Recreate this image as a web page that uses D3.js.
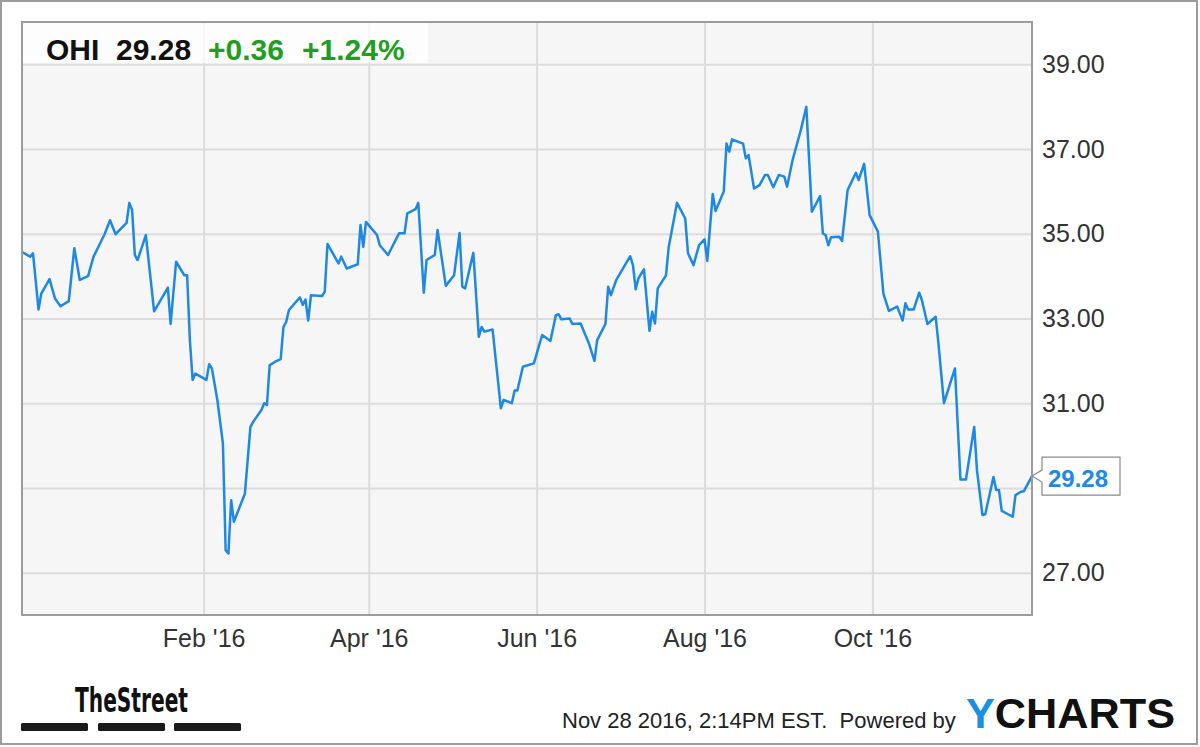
<!DOCTYPE html>
<html>
<head>
<meta charset="utf-8">
<script src="https://cdnjs.cloudflare.com/ajax/libs/d3/7.8.5/d3.min.js"></script>
<style>
  body { margin: 0; background: #fff; }
  svg { display: block; font-family: "Liberation Sans", Arial, sans-serif; }
</style>
</head>
<body>
<svg id="chart" width="1200" height="747"></svg>
<script>
// header / footer text
var ticker = "OHI";
var lastPrice = 29.28;
var change = "+0.36";
var changePct = "+1.24%";
var stamp = "Nov 28 2016, 2:14PM EST.  Powered by";

// price series
var dates = [
  "2015-11-27", "2015-11-30", "2015-12-01", "2015-12-03", "2015-12-04", "2015-12-07", "2015-12-09", "2015-12-11",
  "2015-12-14", "2015-12-16", "2015-12-18", "2015-12-21", "2015-12-23", "2015-12-27", "2015-12-29", "2015-12-31",
  "2016-01-04", "2016-01-05", "2016-01-06", "2016-01-07", "2016-01-08", "2016-01-11", "2016-01-14", "2016-01-19",
  "2016-01-20", "2016-01-22", "2016-01-25", "2016-01-26", "2016-01-27", "2016-01-28", "2016-01-29", "2016-02-02",
  "2016-02-03", "2016-02-04", "2016-02-06", "2016-02-08", "2016-02-09", "2016-02-10", "2016-02-11", "2016-02-12",
  "2016-02-16", "2016-02-18", "2016-02-19", "2016-02-22", "2016-02-23", "2016-02-24", "2016-02-25", "2016-02-27",
  "2016-02-29", "2016-03-01", "2016-03-02", "2016-03-03", "2016-03-07", "2016-03-08", "2016-03-09", "2016-03-10",
  "2016-03-11", "2016-03-15", "2016-03-16", "2016-03-17", "2016-03-21", "2016-03-22", "2016-03-24", "2016-03-28",
  "2016-03-29", "2016-03-30", "2016-03-31", "2016-04-04", "2016-04-05", "2016-04-08", "2016-04-12", "2016-04-14",
  "2016-04-15", "2016-04-18", "2016-04-19", "2016-04-21", "2016-04-22", "2016-04-25", "2016-04-26", "2016-04-29",
  "2016-05-02", "2016-05-04", "2016-05-05", "2016-05-06", "2016-05-09", "2016-05-11", "2016-05-12", "2016-05-13",
  "2016-05-16", "2016-05-19", "2016-05-20", "2016-05-23", "2016-05-24", "2016-05-25", "2016-05-27", "2016-05-31",
  "2016-06-03", "2016-06-06", "2016-06-08", "2016-06-09", "2016-06-10", "2016-06-13", "2016-06-14", "2016-06-17",
  "2016-06-20", "2016-06-22", "2016-06-23", "2016-06-26", "2016-06-27", "2016-06-28", "2016-06-30", "2016-07-05",
  "2016-07-06", "2016-07-07", "2016-07-08", "2016-07-10", "2016-07-12", "2016-07-13", "2016-07-14", "2016-07-15",
  "2016-07-18", "2016-07-19", "2016-07-22", "2016-07-25", "2016-07-26", "2016-07-28", "2016-07-30", "2016-08-01",
  "2016-08-02", "2016-08-04", "2016-08-05", "2016-08-08", "2016-08-09", "2016-08-10", "2016-08-11", "2016-08-15",
  "2016-08-16", "2016-08-17", "2016-08-19", "2016-08-21", "2016-08-23", "2016-08-24", "2016-08-26", "2016-08-28",
  "2016-08-30", "2016-08-31", "2016-09-02", "2016-09-05", "2016-09-07", "2016-09-09", "2016-09-12", "2016-09-13",
  "2016-09-14", "2016-09-15", "2016-09-16", "2016-09-19", "2016-09-20", "2016-09-22", "2016-09-25", "2016-09-26",
  "2016-09-28", "2016-09-30", "2016-10-03", "2016-10-05", "2016-10-07", "2016-10-10", "2016-10-12", "2016-10-13",
  "2016-10-14", "2016-10-16", "2016-10-18", "2016-10-19", "2016-10-21", "2016-10-24", "2016-10-25", "2016-10-27",
  "2016-10-31", "2016-11-02", "2016-11-04", "2016-11-07", "2016-11-08", "2016-11-10", "2016-11-11", "2016-11-14",
  "2016-11-15", "2016-11-16", "2016-11-17", "2016-11-21", "2016-11-22", "2016-11-24", "2016-11-25", "2016-11-28"
];
var prices = [
  34.57, 34.46, 34.54, 33.21, 33.59, 33.93, 33.47, 33.29,
  33.41, 34.66, 33.91, 34.00, 34.46, 34.99, 35.32, 34.99,
  35.26, 35.73, 35.56, 34.50, 34.38, 34.97, 33.17, 33.73,
  32.87, 34.34, 34.02, 34.02, 32.49, 31.55, 31.70, 31.55,
  31.92, 31.82, 31.07, 30.05, 27.53, 27.45, 28.71, 28.20,
  28.87, 30.44, 30.56, 30.84, 31.00, 30.96, 31.90, 31.98,
  32.04, 32.80, 32.92, 33.20, 33.50, 33.32, 33.45, 32.95,
  33.55, 33.53, 33.63, 34.76, 34.30, 34.46, 34.18, 34.28,
  35.21, 34.69, 35.28, 34.97, 34.73, 34.50, 35.01, 35.01,
  35.48, 35.58, 35.73, 33.61, 34.38, 34.50, 35.09, 33.77,
  34.02, 35.02, 33.75, 33.71, 34.55, 32.57, 32.80, 32.69,
  32.74, 30.88, 31.08, 31.00, 31.30, 31.30, 31.86, 31.94,
  32.61, 32.47, 33.08, 33.10, 32.98, 33.00, 32.87, 32.88,
  32.41, 32.00, 32.49, 32.87, 33.75, 33.55, 33.92, 34.47,
  34.26, 33.69, 33.95, 34.16, 32.71, 33.16, 32.88, 33.71,
  34.02, 34.69, 35.73, 35.36, 34.54, 34.26, 34.73, 34.87,
  34.36, 35.94, 35.54, 36.00, 37.13, 36.94, 37.23, 37.13,
  36.78, 36.86, 36.07, 36.15, 36.39, 36.39, 36.10, 36.39,
  36.35, 36.11, 36.74, 37.45, 38.00, 35.52, 35.89, 35.01,
  34.97, 34.73, 34.92, 34.93, 34.83, 36.03, 36.44, 36.27,
  36.65, 35.44, 35.05, 33.59, 33.18, 33.28, 32.95, 33.36,
  33.21, 33.21, 33.61, 33.43, 32.87, 33.04, 32.41, 31.00,
  31.82, 29.20, 29.20, 30.44, 29.42, 28.36, 28.38, 29.26,
  28.95, 28.95, 28.46, 28.32, 28.83, 28.91, 28.92, 29.28
];

var yTicks = [27, 29, 31, 33, 35, 37, 39];
var xTicks = ["2016-02-01", "2016-04-01", "2016-06-01", "2016-08-01", "2016-10-01"];
var xRange = ["2015-11-27", "2016-11-28"];

var parse = d3.timeParse("%Y-%m-%d");
var data = dates.map(function(d, i) {
  return { date: parse(d), price: prices[i] };
});

var plot = {left: 22, top: 22, right: 1032, bottom: 615};
var blue = "#1e88e5";
var green = "#1f9f1f";

var svg = d3.select("#chart");

svg.append("rect")
  .attr("x", 1).attr("y", 1)
  .attr("width", 1196).attr("height", 743)
  .attr("fill", "#fff")
  .attr("stroke", "#9c9c9c")
  .attr("stroke-width", 2);

var x = d3.scaleTime()
  .domain(xRange.map(parse))
  .range([plot.left, plot.right]);

var y = d3.scaleLinear()
  .domain([26, 40])
  .range([plot.bottom, plot.top]);

svg.append("rect")
  .attr("x", plot.left).attr("y", plot.top)
  .attr("width", plot.right - plot.left)
  .attr("height", plot.bottom - plot.top)
  .attr("fill", "#f6f6f6");

// vertical grid + month labels
var xAxis = svg.append("g")
  .attr("transform", "translate(0," + plot.bottom + ")")
  .call(d3.axisBottom(x)
    .tickValues(xTicks.map(parse))
    .tickFormat(d3.timeFormat("%b '%y"))
    .tickSize(-(plot.bottom - plot.top))
    .tickPadding(14));

// horizontal grid + price labels
var yAxis = svg.append("g")
  .attr("transform", "translate(" + plot.right + ",0)")
  .call(d3.axisRight(y)
    .tickValues(yTicks)
    .tickFormat(d3.format(".2f"))
    .tickSize(-(plot.right - plot.left))
    .tickPadding(10));

[xAxis, yAxis].forEach(function(g) {
  g.select(".domain").remove();
  g.selectAll(".tick line").attr("stroke", "#dcdcdc").attr("stroke-width", 2);
  g.selectAll(".tick text")
    .attr("fill", "#333")
    .style("font-size", "25px")
    .style("font-family", "'Liberation Sans', Arial, sans-serif");
});

// the price tag sits on top of the 29.00 label, so drop it
yAxis.selectAll(".tick")
  .filter(function(d) { return Math.abs(y(d) - y(lastPrice)) < 20; })
  .select("text").remove();

// header box
svg.append("rect")
  .attr("x", plot.left + 1).attr("y", plot.top)
  .attr("width", 405).attr("height", 41)
  .attr("fill", "#fff")
  .attr("opacity", 0.72);

var head = svg.append("g")
  .style("font-size", "30px")
  .style("font-weight", "bold");
head.append("text").attr("x", 46).attr("y", 60).attr("fill", "#111").text(ticker);
head.append("text").attr("x", 116).attr("y", 60).attr("fill", "#111").text(lastPrice.toFixed(2));
head.append("text").attr("x", 208).attr("y", 60).attr("fill", green).text(change);
head.append("text").attr("x", 302).attr("y", 60).attr("fill", green).text(changePct);

var line = d3.line()
  .x(function(d) { return x(d.date); })
  .y(function(d) { return y(d.price); });

svg.append("path")
  .datum(data)
  .attr("d", line)
  .attr("fill", "none")
  .attr("stroke", blue)
  .attr("stroke-width", 2.5)
  .attr("stroke-linejoin", "round");

svg.append("rect")
  .attr("x", plot.left).attr("y", plot.top)
  .attr("width", plot.right - plot.left)
  .attr("height", plot.bottom - plot.top)
  .attr("fill", "none")
  .attr("stroke", "#9c9c9c")
  .attr("stroke-width", 2);

// last price tag
var last = data[data.length - 1];
var tx = x(last.date), ty = y(last.price);
var bl = tx + 10, br = tx + 88;
svg.append("path")
  .attr("d", "M" + bl + "," + (ty - 19) + "H" + br + "V" + (ty + 19) + "H" + bl +
    "V" + (ty + 6) + "L" + tx + "," + ty + "L" + bl + "," + (ty - 6) + "Z")
  .attr("fill", "#fff")
  .attr("stroke", "#8a8a8a")
  .attr("stroke-width", 1.2);
svg.append("text")
  .attr("x", bl + 6).attr("y", ty + 11)
  .attr("fill", blue)
  .style("font-size", "24px")
  .style("font-weight", "bold")
  .text(last.price.toFixed(2));

// footer: TheStreet logo
svg.append("text")
  .attr("x", 75).attr("y", 712)
  .attr("textLength", 113)
  .attr("lengthAdjust", "spacingAndGlyphs")
  .attr("fill", "#111")
  .style("font-family", "'Liberation Sans Narrow', 'DejaVu Sans Condensed', sans-serif")
  .style("font-size", "34px")
  .style("font-weight", "bold")
  .text("TheStreet");
[21, 98, 174].forEach(function(bx) {
  svg.append("rect")
    .attr("x", bx).attr("y", 723)
    .attr("width", 67).attr("height", 8)
    .attr("rx", 1.5)
    .attr("fill", "#1a1a1a");
});

svg.append("text")
  .attr("x", 562).attr("y", 728)
  .attr("fill", "#222")
  .style("font-size", "22px")
  .style("white-space", "pre")
  .text(stamp);

var yc = svg.append("text")
  .attr("x", 966).attr("y", 728)
  .attr("textLength", 209)
  .attr("lengthAdjust", "spacingAndGlyphs")
  .style("font-size", "42px")
  .style("font-weight", "bold");
yc.append("tspan").attr("fill", "#1a8fe6").text("Y");
yc.append("tspan").attr("fill", "#111").text("CHARTS");
</script>
</body>
</html>
